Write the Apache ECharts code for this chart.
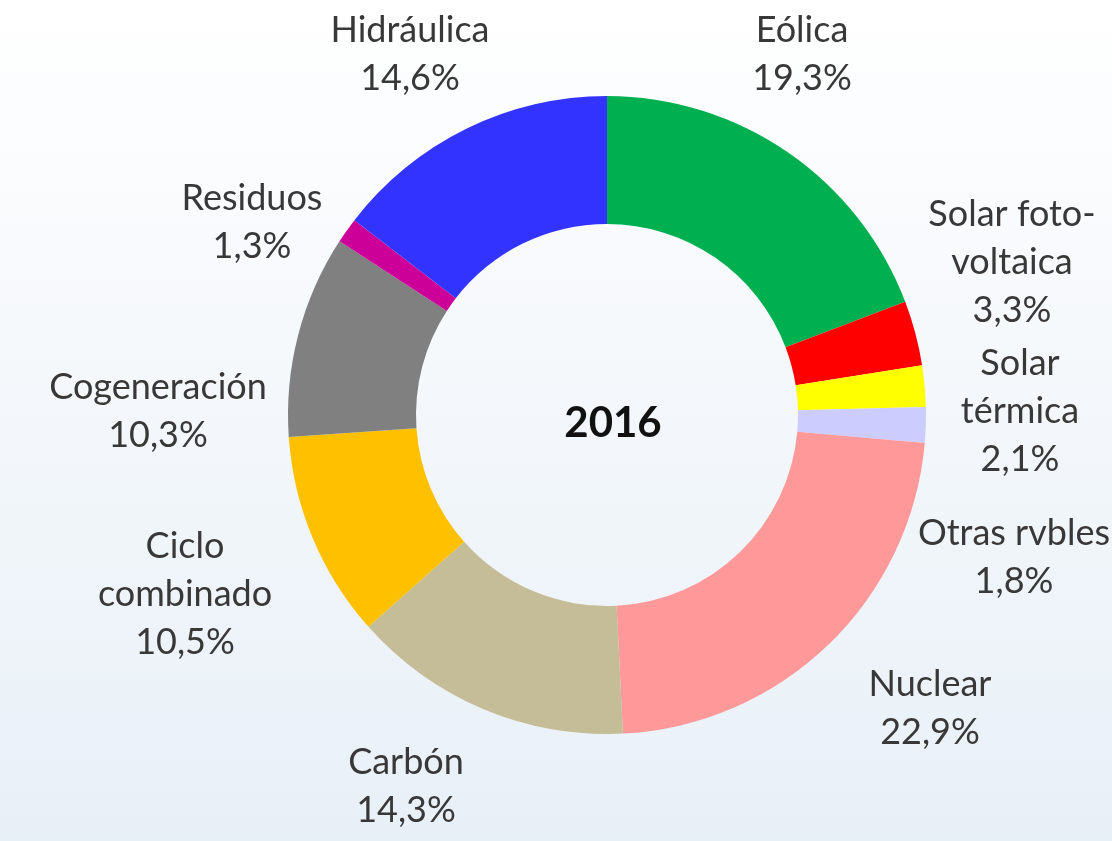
<!DOCTYPE html>
<html>
<head>
<meta charset="utf-8">
<script src="https://cdn.jsdelivr.net/npm/echarts@6/dist/echarts.min.js"></script>
<style>html,body{margin:0;padding:0;background:#fff}#c{width:1112px;height:841px}</style>
</head>
<body>
<div id="c"></div>
<script>
const categories = ['Eólica', 'Solar foto-\nvoltaica', 'Solar\ntérmica', 'Otras rvbles', 'Nuclear', 'Carbón', 'Ciclo\ncombinado', 'Cogeneración', 'Residuos', 'Hidráulica'];
const values = [19.3, 3.3, 2.1, 1.8, 22.9, 14.3, 10.5, 10.3, 1.3, 14.6];
const valueLabels = ['19,3%', '3,3%', '2,1%', '1,8%', '22,9%', '14,3%', '10,5%', '10,3%', '1,3%', '14,6%'];
const colors = ['#00B050', '#FF0000', '#FFFF00', '#CCCCFF', '#FF9999', '#C4BD97', '#FFC000', '#808080', '#CC0099', '#3333FF'];
const centerTitle = '2016';
// label anchor positions (text block centres)
const labelPos = [[802, 54], [1012, 262], [1020, 411], [1014, 557], [930, 708], [406, 786], [185, 594], [158, 411], [252, 222], [410, 54]];

const chart = echarts.init(document.getElementById('c'), null, {renderer: 'canvas'});
chart.setOption({
  backgroundColor: {
    type: 'linear', x: 0, y: 0, x2: 0, y2: 1,
    colorStops: [{offset: 0, color: '#ffffff'}, {offset: 0.5, color: '#f3f7fb'}, {offset: 1, color: '#e8f0f7'}]
  },
  animation: false,
  graphic: [{
    type: 'text', x: 613, y: 423,
    style: {text: centerTitle, font: 'bold 42px Lato', fill: '#111', textAlign: 'center', textVerticalAlign: 'middle'}
  }],
  series: [{
    type: 'pie',
    center: [607, 415],
    radius: [191, 319],
    startAngle: 90,
    clockwise: true,
    avoidLabelOverlap: false,
    data: categories.map((n, i) => ({name: n, value: values[i], itemStyle: {color: colors[i]}})),
    label: {
      show: true,
      position: 'outside',
      formatter: p => p.name + '\n' + valueLabels[p.dataIndex],
      fontFamily: 'Lato',
      fontSize: 36,
      lineHeight: 48,
      color: '#383838',
      align: 'center'
    },
    labelLine: {show: false},
    labelLayout: p => ({x: labelPos[p.dataIndex][0], y: labelPos[p.dataIndex][1], align: 'center', verticalAlign: 'middle'}),
    emphasis: {disabled: true}
  }]
});
</script>
</body>
</html>
